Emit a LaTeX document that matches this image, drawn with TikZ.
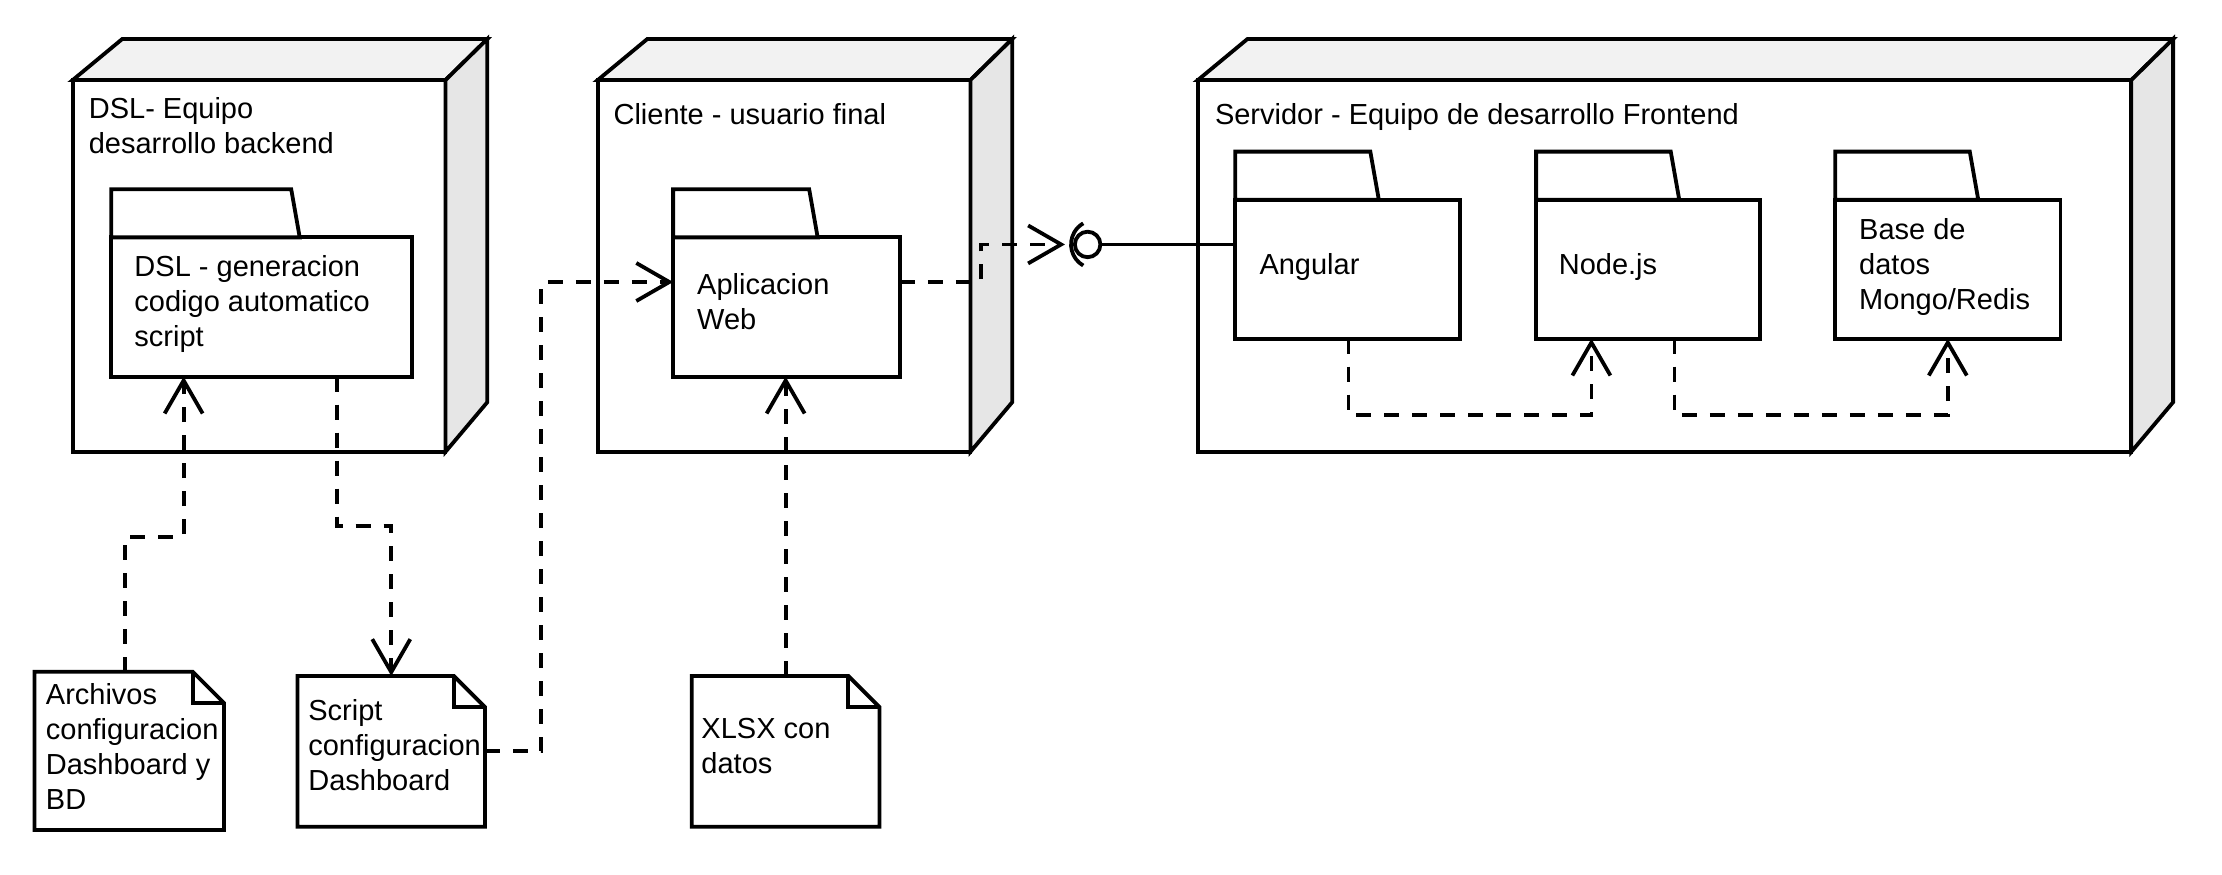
\documentclass[tikz,border=0pt]{standalone}
\usepackage{fontspec}
\setmainfont{Liberation Sans}
\usetikzlibrary{arrows.meta,calc}
\definecolor{topgray}{HTML}{F2F2F2}
\definecolor{sidegray}{HTML}{E6E6E6}
\newcommand\pu{1.417pt}
\tikzset{
  ln/.style={line width=3.8pt, line join=miter},
  boxnode/.style={rectangle, inner sep=0pt, outer sep=0pt, anchor=north west},
  frontface/.style={boxnode, ln, draw, fill=white},
  lbl/.style={inner sep=0pt, outer sep=0pt, anchor=base west, font=\fontsize{29}{35}\selectfont},
  dep/.style={ln, dash pattern=on 15pt off 13pt, -{Straight Barb[length=33pt,width=38pt]}},
}
\newcommand\nodecube[1]{%
  \draw[ln, fill=topgray] (#1.north west) -- ($(#1.north west)+(35,-29)$) -- ($(#1.north east)+(29.5,-29)$) -- (#1.north east) -- cycle;
  \draw[ln, fill=sidegray] (#1.north east) -- ($(#1.north east)+(29.5,-29)$) -- ($(#1.south east)+(29.5,-35)$) -- (#1.south east) -- cycle;}
\newcommand\pkgtab[2]{%
  \draw[ln, fill=white] (#1.north west) -- ++(0,-34) -- ++(#2,0) -- ($(#1.north west)+(#2+6,0)$) -- cycle;}
\newcommand\docshape[1]{%
  \draw[ln, fill=white] (#1.north west) -- ($(#1.north east)+(-22,0)$) -- ($(#1.north east)+(0,22)$) -- (#1.south east) -- (#1.south west) -- cycle;
  \draw[ln] ($(#1.north east)+(-22,0)$) -- ($(#1.north east)+(-22,22)$) -- ($(#1.north east)+(0,22)$);}
\begin{document}
\begin{tikzpicture}[x=1.417pt, y=-1.417pt]
\useasboundingbox[fill=white] (0,0) rectangle (1568,617);

% deployment nodes
\node[frontface, minimum width=263.1*\pu, minimum height=262.3*\pu] (nDSL) at (51.3,56.5) {};
\nodecube{nDSL}
\node[frontface, minimum width=263*\pu, minimum height=262.3*\pu] (nCli) at (421.8,56.5) {};
\nodecube{nCli}
\node[frontface, minimum width=658.7*\pu, minimum height=262.3*\pu] (nSrv) at (845.3,56.5) {};
\nodecube{nSrv}

\node[lbl] (tDSL) at (62.7,83.5) {\vtop{\hbox{DSL- Equipo}\hbox{desarrollo backend}}};
\node[lbl] (tCli) at (433,88.2) {Cliente - usuario final};
\node[lbl] (tSrv) at (857.4,88.2) {Servidor - Equipo de desarrollo Frontend};

% packages
\node[frontface, minimum width=212.5*\pu, minimum height=98.3*\pu] (pDSL) at (78.5,167.5) {};
\pkgtab{pDSL}{127}
\node[frontface, minimum width=160*\pu, minimum height=98.3*\pu] (pApp) at (475,167.5) {};
\pkgtab{pApp}{96}
\node[frontface, minimum width=158.4*\pu, minimum height=98*\pu] (pAng) at (871.6,141) {};
\pkgtab{pAng}{95.4}
\node[frontface, minimum width=158*\pu, minimum height=98*\pu] (pNode) at (1084,141) {};
\pkgtab{pNode}{95}
\node[frontface, minimum width=159*\pu, minimum height=98*\pu] (pBase) at (1295,141) {};
\pkgtab{pBase}{95}

\node[lbl] (tpDSL) at (94.9,195.2) {\vtop{\hbox{DSL - generacion}\hbox{codigo automatico}\hbox{script}}};
\node[lbl] (tpApp) at (492,208) {\vtop{\hbox{Aplicacion}\hbox{Web}}};
\node[lbl] (tpAng) at (888.8,194) {Angular};
\node[lbl] (tpNode) at (1100,194) {Node.js};
\node[lbl] (tpBase) at (1312,168.9) {\vtop{\hbox{Base de}\hbox{datos}\hbox{Mongo/Redis}}};

% documents
\node[boxnode, minimum width=133.7*\pu, minimum height=111.7*\pu] (dArch) at (24.3,474) {};
\docshape{dArch}
\node[boxnode, minimum width=132.4*\pu, minimum height=106.4*\pu] (dScr) at (209.9,477) {};
\docshape{dScr}
\node[boxnode, minimum width=132.4*\pu, minimum height=106.4*\pu] (dXlsx) at (488.2,477) {};
\docshape{dXlsx}

\node[lbl] (tArch) at (32.4,496.8) {\vtop{\hbox{Archivos}\hbox{configuracion}\hbox{Dashboard y}\hbox{BD}}};
\node[lbl] (tScr) at (217.6,508.6) {\vtop{\hbox{Script}\hbox{configuracion}\hbox{Dashboard}}};
\node[lbl] (tXlsx) at (495,521) {\vtop{\hbox{XLSX con}\hbox{datos}}};

% interface (ball and socket)
\node[circle, draw, ln, fill=white, inner sep=0pt, outer sep=0pt, minimum size=18*\pu] (ball) at (767.5,172.5) {};
\coordinate (sockc) at ($(ball.center)+(5.5,0)$);
\draw[ln] ($(sockc)+(120:17.2)$) arc[start angle=120, end angle=240, radius=17.2];

% connectors
\draw[dep] ($(dArch.north west)+(64,0)$) -- ++(0,-95.3) -| ($(pDSL.south west)+(51.1,0)$);
\draw[dep] ($(pDSL.south west)+(159.3,0)$) -- ++(0,105.4) -| (dScr.north);
\draw[dep] (dScr.east) -- ++(39.7,0) |- ($(pApp.north west)+(0,31.5)$);
\draw[dep] (dXlsx.north) -- (dXlsx.north |- pApp.south);
\draw[dep] ($(pApp.north east)+(0,31.5)$) -- ++(57.5,0) |- ($(ball.west)+(-7,0)$);
\draw[ln] (ball.east) -- ($(pAng.north west)+(0,31.5)$);
\draw[dep] ($(pAng.south west)+(80,0)$) -- ++(0,54) -| ($(pNode.south west)+(39,0)$);
\draw[dep] ($(pNode.south west)+(97.6,0)$) -- ++(0,54) -| (pBase.south);
\end{tikzpicture}
\end{document}
